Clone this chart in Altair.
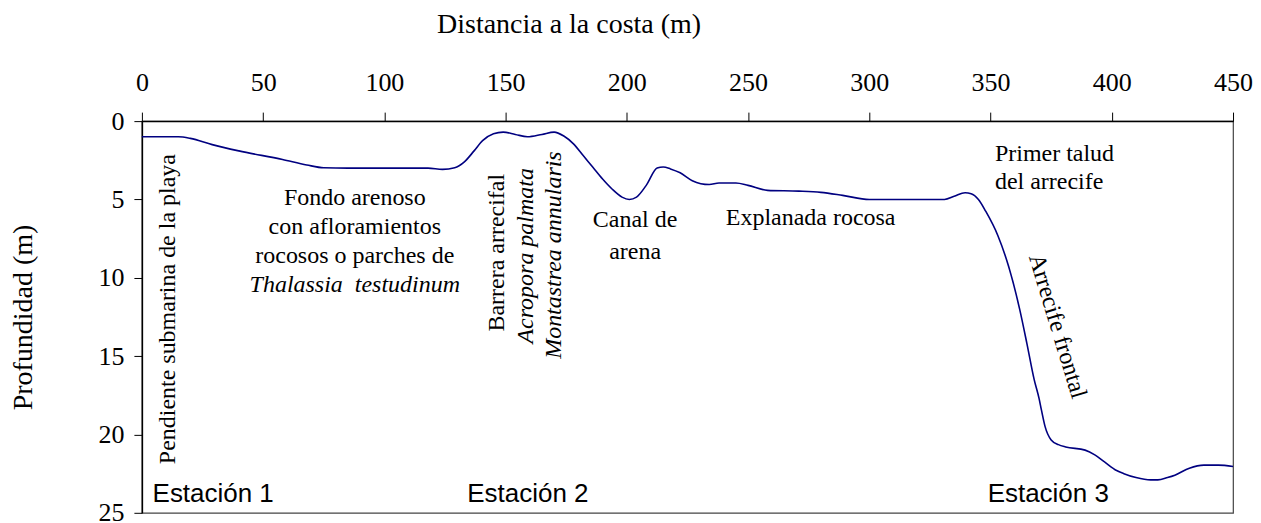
import altair as alt
import pandas as pd

# Bathymetric profile (distance to coast in m, depth in m)
dist = [0, 15, 20, 29, 40, 58, 68, 75, 85, 100, 118, 124, 129, 133, 137, 140.5, 145, 149,
        154, 159, 165, 170, 174, 178, 182, 186, 190, 194, 198, 201, 204, 208, 212.5, 215,
        218, 222, 227, 234, 238, 245, 250, 258, 271, 280, 289, 300, 315, 331, 335, 339.5,
        342, 345, 348, 353, 357.5, 362, 365, 368, 370, 371, 372.5, 375, 378, 381, 389, 393,
        397, 402, 405, 410, 416, 419, 423, 426, 432, 438, 444, 450]
depth = [1.0, 1.0, 1.1, 1.5, 1.9, 2.45, 2.8, 2.98, 3.0, 3.0, 3.0, 3.08, 2.98, 2.6, 1.9, 1.25,
         0.8, 0.7, 0.85, 1.0, 0.85, 0.7, 0.95, 1.45, 2.2, 2.95, 3.7, 4.35, 4.85, 5.0, 4.85,
         4.1, 3.0, 2.93, 3.05, 3.3, 3.8, 4.05, 3.95, 3.95, 4.1, 4.42, 4.47, 4.55, 4.74, 5.0,
         5.0, 5.0, 4.8, 4.57, 4.63, 5.0, 5.75, 7.3, 9.3, 12.0, 14.2, 16.5, 17.7, 18.45, 19.5,
         20.35, 20.65, 20.8, 21.0, 21.3, 21.75, 22.3, 22.5, 22.75, 22.9, 22.9, 22.75, 22.6,
         22.15, 21.96, 21.96, 22.05]

x_ticks = [0, 50, 100, 150, 200, 250, 300, 350, 400, 450]
y_ticks = [0, 5, 10, 15, 20, 25]

# Annotations
vert_texts = ["Pendiente submarina de la playa", "Barrera arrecifal"]
vert_x = [10.9, 146.5]
vert_y = [12.0, 8.4]

vert_it_texts = ["Acropora palmata", "Montastrea annularis"]
vert_it_x = [158.5, 170.0]
vert_it_y = [8.6, 8.55]

hz_texts = ["Fondo arenoso", "con afloramientos", "rocosos o parches de",
            "Canal de", "arena", "Explanada rocosa"]
hz_x = [87.8, 87.8, 87.8, 203.4, 203.4, 275.8]
hz_y = [4.93, 6.77, 8.63, 6.33, 8.35, 6.2]

it_texts = ["Thalassia\u00a0 testudinum"]
it_x = [87.8]
it_y = [10.48]

left_texts = ["Primer talud", "del arrecife"]
left_x = [351.8, 351.8]
left_y = [2.08, 3.89]

slant_texts = ["Arrecife frontal"]
slant_x = [377.5]
slant_y = [13.1]

st_texts = ["Estación 1", "Estación 2", "Estación 3"]
st_x = [29.4, 159.2, 373.8]
st_y = [23.8, 23.8, 23.8]

SERIF = "Liberation Serif"

X = alt.X("x:Q",
          scale=alt.Scale(domain=[0, 450], nice=False, zero=False),
          axis=alt.Axis(orient="top", values=x_ticks, grid=False, tickSize=9,
                        labelPadding=17, labelFont=SERIF, labelFontSize=26,
                        labelFlush=False, labelOverlap=False,
                        title="Distancia a la costa (m)", titleFont=SERIF,
                        titleX=427, titleY=-89, titleAlign="center",
                        titleBaseline="alphabetic", titleAngle=0))
Y = alt.Y("y:Q",
          scale=alt.Scale(domain=[0, 25], reverse=True, nice=False, zero=False),
          axis=alt.Axis(orient="left", values=y_ticks, grid=False, tickSize=8,
                        labelPadding=10, labelFont=SERIF, labelFontSize=26,
                        labelFlush=False, labelOverlap=False,
                        title="Profundidad (m)", titleFont=SERIF,
                        titleX=-118, titleY=196, titleAlign="center",
                        titleBaseline="middle", titleAngle=270))


def df(t, xs, ys):
    return pd.DataFrame({"text": t, "x": xs, "y": ys})


line = alt.Chart(pd.DataFrame({"x": dist, "y": depth})).mark_line(
    color="#000080", strokeWidth=1.6, interpolate="monotone"
).encode(x=X, y=Y)


def txt(data, **kw):
    base = dict(font=SERIF, fontSize=24, color="black", baseline="middle", align="center")
    base.update(kw)
    return alt.Chart(data).mark_text(**base).encode(x=X, y=Y, text="text:N")


layers = [
    line,
    txt(df(vert_texts, vert_x, vert_y), angle=270),
    txt(df(vert_it_texts, vert_it_x, vert_it_y), angle=270, fontStyle="italic"),
    txt(df(hz_texts, hz_x, hz_y)),
    txt(df(it_texts, it_x, it_y), fontStyle="italic"),
    txt(df(left_texts, left_x, left_y), align="left"),
    txt(df(slant_texts, slant_x, slant_y), angle=73),
    txt(df(st_texts, st_x, st_y), font="Liberation Sans", fontSize=26),
]

chart = alt.layer(*layers).properties(
    width=1092, height=392,
    autosize=alt.AutoSizeParams(type="none"),
    padding={"left": 134, "top": 113, "right": 20, "bottom": 12},
    background="white",
).configure_axis(
    domainColor="black", domainWidth=1.5, tickColor="black", tickWidth=1,
    labelFont=SERIF, labelFontSize=26, labelColor="black",
    titleFont=SERIF, titleFontSize=28, titleFontWeight="normal", titleColor="black",
).configure_view(stroke="#444444", strokeWidth=1.2)

chart.save("out.html", embed_options={"renderer": "svg", "actions": False})
